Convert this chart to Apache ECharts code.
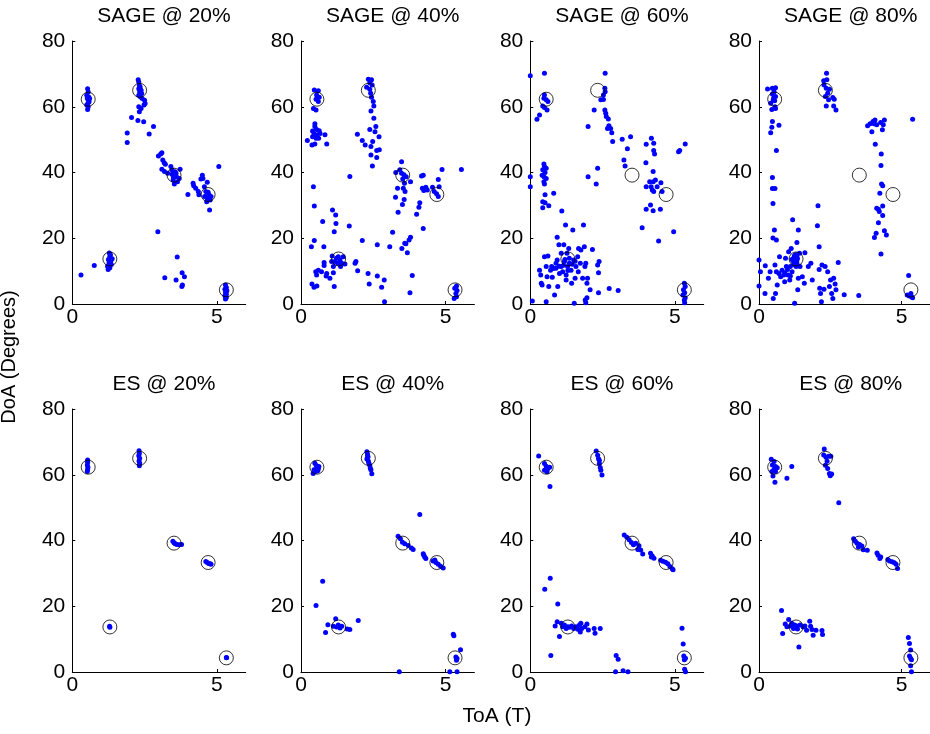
<!DOCTYPE html>
<html><head><meta charset="utf-8">
<script src="https://cdn.jsdelivr.net/npm/echarts@6/dist/echarts.min.js"></script>
<style>html,body{margin:0;padding:0;background:#fff}#c{width:930px;height:734px}</style>
</head><body><div id="c"></div>
<script>
var panelTitles = ['SAGE @ 20%','SAGE @ 40%','SAGE @ 60%','SAGE @ 80%','ES @ 20%','ES @ 40%','ES @ 60%','ES @ 80%'];
var xTicks = [0, 5];
var yTicks = [0, 20, 40, 60, 80];
var trueToA = [0.55, 1.30, 2.33, 3.52, 4.70, 5.33];
var trueDoA = [62.3, 13.7, 65.0, 39.2, 33.3, 4.3];

var sage20 = [
[0.53,65.5],[0.55,64.5],[0.5,63.5],[0.57,63],[0.52,62.5],[0.56,62],[0.58,61.5],[0.54,61],[0.5,60.5],[0.55,60],[0.53,59.2],[0.6,62.5],
[2.28,68.2],[2.3,67.5],[2.32,66.5],[2.35,66],[2.3,65.5],[2.38,65],[2.33,64.5],[2.4,64],[2.3,63.5],[2.36,63],[2.42,62.5],[2.5,62],[2.52,61],[2.48,60.5],[2.3,60],[2.38,59.5],[2.32,58.5],
[2.05,56.7],[2.27,55.8],[2.47,55.4],[2.81,54],[1.90,52],[2.66,51.7],[1.90,49.1],
[2.98,45],[3.06,45.6],[3.10,46],[3.13,43.8],[3.18,43],[3.22,42.5],[3.10,41],[3.19,40.3],[3.30,39.8],[3.41,41.8],[3.45,40.8],[3.53,39.3],[3.59,39.8],[3.49,37.7],[3.64,37.2],[3.73,41],[3.70,38.2],[3.53,36.5],[3.5,38.5],[3.56,40.2],[3.45,39.5],[3.6,38.8],
[4.0,33.3],[4.18,36.7],[4.20,36],[4.27,35.2],[4.36,34.2],[4.38,33.2],[4.50,39.2],[4.52,38.2],[4.45,38],[4.57,35.7],[4.67,37],[4.62,34.2],[4.73,33.2],[4.67,32.1],[4.77,31.6],[4.65,31.1],[4.75,28.6],[5.07,41.8],[4.58,32.7],[4.80,32.7],[4.7,34],[4.68,33],[4.74,32.5],
[1.28,15.5],[1.3,14.5],[1.25,13.5],[1.33,13],[1.27,12.5],[1.35,12],[1.22,11.5],[1.3,11],[1.24,10.5],[1.38,13.8],[1.32,15],[0.30,8.8],[0.76,11.7],
[2.96,22],[3.20,8],[3.63,14.3],[3.59,7.3],[3.80,9.5],[3.88,8.3],[3.81,5.8],[3.79,5.3],
[5.3,5.8],[5.33,5],[5.28,4.5],[5.35,4],[5.3,3.5],[5.33,3],[5.28,2.5],[5.33,2],[5.3,1.5]
];
var sage40 = [
[0.46,65.1],[0.60,64.9],[0.54,63.6],[0.63,62.9],[0.52,62.3],[0.60,61.6],[0.43,59.5],[0.52,59.0],
[0.48,54.8],[0.48,54],[0.54,53.1],[0.40,52.6],[0.63,52.7],[0.45,51.9],[0.54,51.4],[0.66,51.9],[0.40,50.9],[0.52,50.4],[0.61,50.4],[0.22,49.7],[0.48,48.7],[0.38,48.4],[0.83,51.5],[0.89,48.7],
[0.43,35.7],[0.46,29.8],[1.69,38.8],[0.36,17.4],[0.46,19.3],[0.79,17.4],[0.75,25.1],[1.09,28.6],[1.20,27.1],[1.21,24.5],[1.15,22],[1.67,23.7],[2.12,19.3],[2.64,18],
[0.38,6.1],[0.45,5.1],[0.55,5.5],[0.51,9.8],[0.54,8.8],[0.60,10.3],[0.71,9.8],[0.80,12.6],[0.80,11.7],[0.89,9.3],[0.87,8.5],[1.00,7.8],[1.15,5.3],[1.12,9.5],[1.06,12.9],[1.08,14.6],[1.17,12.9],[1.23,13.9],[1.29,14.4],[1.35,13.4],[1.27,12.4],[1.41,12.4],[1.52,12.2],[1.46,14.4],[1.37,11.4],[1.12,11.4],[1.87,12.4],[1.90,12.9],[1.96,10.1],[2.32,9.3],[2.64,8.5],[2.36,6.1],[2.79,5.1],[2.88,7.3],[2.89,0.7],
[2.33,68.4],[2.44,68.2],[2.38,67.3],[2.46,66.6],[2.27,65.9],[2.38,65.3],[2.41,64.1],[2.44,62.9],[2.50,61.6],[2.52,60.2],[2.42,58.7],[2.52,56.5],[2.59,54],[2.38,53.1],[2.56,52.4],[2.70,50.9],[1.95,51.6],[2.12,49.7],[2.22,48.4],[2.42,47.9],[2.48,49.4],[2.62,46.7],[2.71,46.9],[2.62,44.6],[2.42,45.3],[2.47,42],
[3.48,43.3],[3.28,40],[3.42,40.8],[3.48,39.8],[3.56,39.3],[3.64,38.7],[3.52,38],[3.58,36.7],[3.54,35.2],[3.60,34.2],[3.34,35.2],[3.27,32.5],[3.57,31.8],[3.51,30.3],[3.36,27.9],[3.79,37.2],[3.17,21.8],[3.07,17.4],[3.49,16.9],[3.63,18.3],[3.68,15.6],[3.74,19.5],[3.79,20.3],[3.85,8.7],[3.77,3.4],[3.59,18.5],
[4.17,38.9],[4.23,39.2],[4.20,35.2],[4.25,34.5],[4.32,35.5],[4.37,34.7],[4.55,35.5],[4.61,34.2],[4.69,33.5],[4.75,32.7],[4.78,35.7],[4.75,37.9],[4.88,40.9],[5.55,40.9],[4.11,30.8],[4.08,29.4],[4.00,27.3],[4.23,23],[4.29,35],
[5.38,5.5],[5.32,4.8],[5.40,4.1],[5.36,3.2],[5.38,2.2],[5.30,1.7]
];
var sage60 = [
[0,69.4],[0,38.7],[0,35.7],[0.07,0.9],
[0.49,70.2],[0.49,63.6],[0.47,62.6],[0.55,62.1],[0.61,61.6],[0.43,60.2],[0.49,59.8],[0.58,59],[0.32,57.5],[0.23,56.2],
[0.47,42.6],[0.49,41.8],[0.55,41.3],[0.43,40.8],[0.51,40],[0.41,39.2],[0.47,38.7],[0.55,38.2],[0.47,37.2],[0.49,36.5],[0.51,33.2],[0.43,31.1],[0.51,30.8],[0.64,29.9],[0.43,29.3],[0.81,33.7],
[0.32,10.3],[0.36,8.8],[0.38,6.3],[0.41,5.8],[0.49,14.4],[0.55,11.4],[0.61,14.6],[0.58,8.3],[0.64,5.3],[0.55,0.7],[0.70,10.3],[0.74,11.4],[0.84,2.7],[0.76,8.1],[0.89,10.9],[0.93,13.4],[0.95,5.3],[0.99,18],[0.93,20.3],[1.09,28.3],[1.16,18],[1.07,11.4],[1.12,9.8],[1.18,12.9],[1.22,24],[1.24,8.8],[1.27,15.4],[1.29,11.4],[1.33,16.9],[1.35,12.4],[1.41,10.3],[1.43,6.3],[1.47,22.5],[1.50,13.4],[1.52,0.2],[1.55,7.8],[1.58,11.4],[1.64,14.4],[1.66,9.8],[1.67,16.9],[1.73,12.4],[1.75,16.4],[1.81,7.8],[1.84,24],[1.87,17.4],[1.89,11.4],[1.90,1.2],[1.92,0.4],[1.96,1.9],[1.96,6.3],[1.98,7.8],[1.92,12.4],[2.07,4.3],[2.15,16.6],[2.33,11.9],[2.38,12.9],[2.36,9.5],[2.36,3.4],[2.73,4.7],[3.04,4.1],[1.01,9.3],[1.24,7.3],[1.07,15.4],[1.35,13.9],[0.89,12.4],[1.15,11.8],[1.3,10.2],[1.45,12.1],[1.2,13.5],[1.0,11.5],[0.8,10.8],[1.55,13.0],
[2.00,54],[2.21,59],[2.33,41.3],[2.28,36.5],[2.00,38.7],[2.59,70.2],[2.58,65.6],[2.59,64.6],[2.53,63.6],[2.44,62.1],[2.53,62.2],[2.58,59],[2.61,58],[2.63,57],[2.70,56.3],[2.72,54.2],[2.67,53.4],[2.78,53.4],[2.82,52.1],[2.85,49.4],[3.18,50.1],[3.47,50.9],[3.36,47.2],[3.24,43.8],[3.28,42],
[4.01,48.6],[4.19,50.4],[4.27,48.9],[4.27,46.7],[4.30,45.6],[4.00,43],[4.25,40.3],[4.01,35.7],[4.13,37.2],[4.18,35.7],[4.22,34.7],[4.25,37.2],[4.27,34.2],[4.33,37.7],[4.39,35.7],[4.52,36.9],[4.56,34.2],[4.16,30.1],[4.25,28.4],[4.01,28.8],[4.50,28.8],[3.87,23.2],[4.44,19.2],[4.96,22],[5.13,46.3],[5.17,46.7],[5.36,48.7],
[5.33,6.3],[5.36,5.3],[5.30,4.3],[5.34,3.4],[5.28,2.7],[5.36,1.9],[5.33,1.2],[5.34,0.4]
];
var sage80 = [
[0.30,65.4],[0.47,65.6],[0.58,65.8],[0.53,64.6],[0.47,63.9],[0.58,63.1],[0.50,62.1],[0.41,61.1],[0.56,60.0],[0.45,59.2],[0.58,59.5],[0.47,55.5],[0.45,53.8],[0.70,54.4],[0.41,52.1],[0.61,46.7],[0.47,38.5],[0.47,35.1],[0.56,35.1],[0.49,30.6],[0.54,22.5],[0.49,20.1],[0.61,19.5],[0.52,62.8],[0.55,61.8],
[0,13.4],[0,5.5],[0.05,9.8],[0.21,3.2],[0.22,11.6],[0.33,7.8],[0.39,9.8],[0.5,1.7],[0.56,11.9],[0.58,3.2],[0.61,9.8],[0.64,5.8],[0.70,9.3],[0.72,14.4],[0.76,8.3],[0.81,10.3],[0.87,8.8],[0.90,6.8],[0.93,13.9],[0.96,11.4],[1.02,8.8],[1.04,15.9],[1.08,7.3],[1.10,11.4],[1.13,16.9],[1.16,9.8],[1.18,25.6],[1.21,12.9],[1.25,0.2],[1.27,14.9],[1.30,11.4],[1.33,14.4],[1.33,18.7],[1.36,4.3],[1.38,22.5],[1.38,7.8],[1.42,15.4],[1.44,11.4],[1.52,8.3],[1.59,6.3],[1.61,15.6],[1.73,11.4],[1.82,12.4],[1.87,7.3],[2.05,23.8],[2.07,29.9],[2.11,17.4],[2.11,10.5],[2.13,4.8],[2.16,3.2],[2.19,0.7],[2.21,11.9],[2.28,4.5],[2.32,11.4],[2.41,9.8],[2.47,5.3],[2.51,7.3],[2.55,3.2],[2.59,1.7],[2.62,7.8],[2.67,6.1],[2.70,4.3],[2.78,12.6],[2.99,2.8],[3.50,2.6],[1.27,13.4],[1.21,13.9],[1.33,12.4],[1.28,14.2],[1.32,13.0],[1.26,12.6],[1.35,13.8],[1.24,14.6],[1.3,15.0],[1.22,12.0],[1.0,10.5],[0.9,9.5],[1.1,8.5],[1.15,13.5],
[2.37,70.2],[2.27,67.9],[2.38,68.2],[2.28,66.6],[2.36,65.6],[2.47,65.3],[2.41,64.1],[2.33,63.1],[2.44,62.1],[2.59,62.8],[2.64,62.3],[2.36,60.2],[2.62,60.2],[2.70,59],
[3.81,54.2],[3.90,54.8],[4.00,55.5],[4.04,54.8],[4.07,56],[4.13,54.5],[3.96,52.4],[4.27,55.2],[4.36,54.5],[4.40,56],[4.33,53],[4.08,48.6],[4.29,45.6],[4.28,42.1],[4.30,36.5],[4.34,36],[4.24,33.7],[4.13,29.1],[4.19,28.8],[4.22,28.1],[4.34,29.8],[4.34,26.9],[4.19,24.7],[4.11,21.5],[4.05,20.2],[4.40,22.3],[4.47,21],[4.28,15.2],
[5.39,56.2],[5.25,8.7],[5.20,2.7],[5.27,2.4],[5.35,2.2],[5.33,3.2],[5.39,1.9]
];
var es20 = [
[0.53,64.5],[0.53,63.8],[0.52,63],[0.54,62.3],[0.53,61.6],[0.52,61],
[2.31,67.3],[2.32,66.5],[2.30,65.8],[2.33,65],[2.31,64.2],[2.33,63.5],[2.32,62.7],
[3.48,39.8],[3.52,39.3],[3.56,39],[3.62,38.8],[3.70,38.7],[3.78,38.8],
[4.62,33.6],[4.67,33.3],[4.72,33],[4.77,32.9],[4.80,32.8],
[1.29,13.9],[1.30,13.6],
[5.33,4.4],[5.34,4.3]
];
var es40 = [
[0.48,63.5],[0.53,62.8],[0.55,62],[0.60,61.8],[0.45,61.5],[0.50,61],[0.58,61.2],[0.42,60.4],[0.62,62.5],
[2.28,67],[2.30,66.3],[2.32,65.5],[2.28,64.8],[2.33,64.2],[2.35,63.5],[2.38,62.8],[2.40,62],[2.42,61.5],[2.45,60.3],[2.30,65.8],
[3.36,41.3],[3.44,40.5],[3.51,39.5],[3.59,39],[3.71,38.5],[3.82,37.7],[3.88,37.3],[4.11,47.9],[4.23,36],[4.28,35],[4.32,34.5],[4.25,35.5],
[4.57,33.8],[4.67,33.3],[4.75,32.8],[4.83,32.2],[4.92,31.6],[4.63,34.1],
[0.52,20.2],[0.75,27.6],[0.85,12],[0.93,14.4],[1.12,13.9],[1.20,16.2],[1.23,13.7],[1.29,14.3],[1.35,13.4],[1.41,13.9],[1.60,13.1],[1.69,12.9],[1.98,15.7],
[3.40,0.1],[5.15,0.1],[5.40,0.1],[5.27,11.5],[5.29,11],[5.52,6.8],[5.36,4.6],[5.40,4.1],[5.38,3.6]
];
var es60 = [
[0.29,65.7],[0.49,63.4],[0.55,62.6],[0.61,61.9],[0.49,61.4],[0.58,60.9],[0.67,62.3],[0.68,56.4],
[2.28,67.2],[2.33,65.9],[2.36,64.9],[2.39,63.4],[2.42,62.2],[2.44,61.4],[2.48,59.9],[2.39,64.4],
[0.69,28.5],[0.50,25.2],[0.95,20.7],[0.71,5],
[0.86,14],[0.93,15.3],[1.01,10.8],[1.07,14.8],[1.12,13.8],[1.18,14.3],[1.24,13.2],[1.30,13.8],[1.35,13.6],[1.43,14],[1.50,13.2],[1.58,13.8],[1.64,13],[1.70,14.3],[1.75,14.8],[1.78,13.2],[1.73,12.2],[1.89,13.8],[1.96,14.6],[2.01,12.8],[2.21,13.2],[2.24,11.8],[2.42,13.2],
[2.97,5],[3.04,3.9],[2.95,0.1],[3.21,0.4],[3.38,0.1],
[3.25,41.7],[3.34,41.0],[3.42,40.2],[3.50,39.4],[3.57,38.7],[3.65,39.2],[3.76,38.4],[3.72,37.3],[3.82,37.1],[3.89,35.9],[4.16,36.1],[4.22,35.3],[4.28,34.6],[4.19,35],
[4.51,34.0],[4.59,33.7],[4.68,33.4],[4.76,32.9],[4.83,32.1],[4.91,31.4],[4.94,31.1],
[5.25,13.3],[5.29,8.5],[5.31,4.9],[5.37,4.2],[5.33,3.7],[5.34,0.8],[5.37,0.1]
];
var es80 = [
[0.43,64.7],[0.53,64],[0.47,63],[0.58,62.5],[0.53,61.7],[0.45,61],[0.58,61],[0.49,59.6],[0.56,57.7],[0.98,58.9],[1.15,62.5],[0.64,62.1],
[2.29,67.8],[2.27,66.0],[2.35,65.3],[2.44,65.6],[2.52,65.6],[2.39,64.1],[2.33,62.9],[2.41,61.9],[2.47,60.4],[2.50,59.7],[2.55,60.2],[2.80,51.5],
[0.79,18.7],[0.83,11.7],[0.92,14.6],[1.04,16.0],[0.98,13.8],[1.10,14],[1.15,14.8],[1.21,13.2],[1.27,13.7],[1.32,14],[1.40,7.6],[1.44,14.3],[1.55,13.7],[1.67,12.7],[1.78,15.4],[1.81,13.9],[1.86,12.9],[1.90,11.2],[2.0,12.7],[2.21,12.6],[2.23,11.4],[1.61,14.0],[1.25,14.3],[1.35,13.1],
[3.32,40.5],[3.38,39.8],[3.44,39.2],[3.53,38.8],[3.61,38.3],[3.66,37.2],[3.80,37.0],[3.49,38.0],[4.14,36.2],[4.18,35.5],[4.24,34.5],[4.27,35],
[4.52,34.2],[4.58,33.8],[4.67,33.5],[4.75,33.2],[4.81,32.8],[4.86,31.5],
[5.24,10.5],[5.28,8.7],[5.32,6.7],[5.28,4.9],[5.32,4.2],[5.35,3.7],[5.32,1.9],[5.35,0.1]
];

var panelData = [sage20, sage40, sage60, sage80, es20, es40, es60, es80];
var truePts = trueToA.map(function(x, i){ return [x, trueDoA[i]]; });

var colLeft = [72.3, 301, 530.3, 759];
var rowTop = [41, 409];
var gw = 173.4, gh = 263;

var grids = [], xAxes = [], yAxes = [], series = [], titles = [];
var FONT = 'Arial, "Liberation Sans", sans-serif';
for (var i = 0; i < 8; i++) {
  var r = Math.floor(i / 4), c = i % 4;
  grids.push({left: colLeft[c], top: rowTop[r], width: gw, height: gh, containLabel: false});
  xAxes.push({
    type: 'value', gridIndex: i, min: 0, max: 6, interval: 5,
    axisLine: {show: true, lineStyle: {color: '#000', width: 1}},
    axisTick: {show: true, inside: true, length: 3, lineStyle: {color: '#000'},
      customValues: xTicks},
    axisLabel: {color: '#000', fontSize: 21, fontFamily: FONT, margin: 3,
      customValues: xTicks},
    splitLine: {show: false}
  });
  yAxes.push({
    type: 'value', gridIndex: i, min: 0, max: 80, interval: 20,
    axisLine: {show: true, lineStyle: {color: '#000', width: 1}},
    axisTick: {show: true, inside: true, length: 3, lineStyle: {color: '#000'}, customValues: yTicks},
    axisLabel: {color: '#000', fontSize: 21, fontFamily: FONT, margin: 7, customValues: yTicks},
    splitLine: {show: false}
  });
  series.push({
    type: 'scatter', xAxisIndex: i, yAxisIndex: i, data: panelData[i],
    symbol: 'circle', symbolSize: 5, itemStyle: {color: '#0000FF', opacity: 1},
    silent: true, z: 2
  });
  series.push({
    type: 'scatter', xAxisIndex: i, yAxisIndex: i, data: truePts,
    symbol: 'circle', symbolSize: 14,
    itemStyle: {color: 'rgba(0,0,0,0)', borderColor: '#000', borderWidth: 1},
    silent: true, z: 3
  });
  titles.push({
    text: panelTitles[i], left: colLeft[c] + gw / 2, top: rowTop[r] - 40, textAlign: 'center',
    textStyle: {color: '#000', fontSize: 21, fontWeight: 'normal', fontFamily: FONT}
  });
}

var chart = echarts.init(document.getElementById('c'), null, {renderer: 'canvas'});
chart.setOption({
  backgroundColor: '#fff',
  animation: false,
  title: titles,
  grid: grids,
  xAxis: xAxes,
  yAxis: yAxes,
  series: series,
  graphic: [
    {type: 'text', rotation: Math.PI / 2, x: 9, y: 357,
      style: {text: 'DoA (Degrees)', fill: '#000', font: '20px ' + FONT, textAlign: 'center', textVerticalAlign: 'middle'}},
    {type: 'text', x: 497, y: 716,
      style: {text: 'ToA (T)', fill: '#000', font: '21px ' + FONT, textAlign: 'center', textVerticalAlign: 'middle'}}
  ]
});
</script>
</body></html>
